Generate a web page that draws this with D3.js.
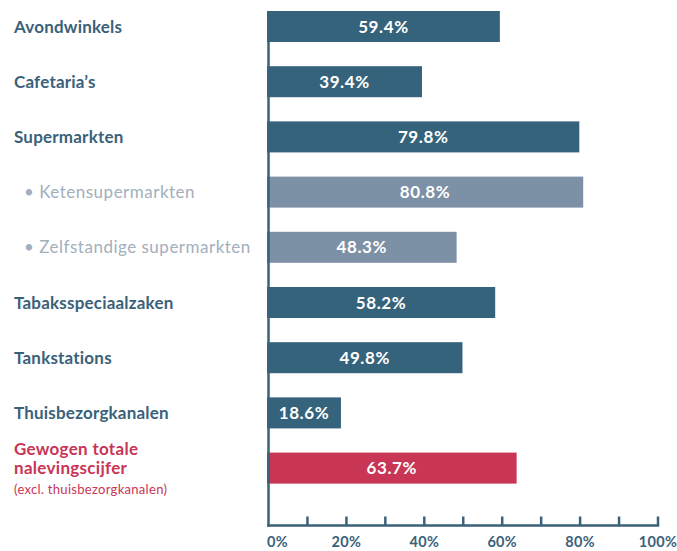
<!DOCTYPE html>
<html><head><meta charset="utf-8">
<script src="https://cdn.jsdelivr.net/npm/d3@7"></script>
<style>body{margin:0;background:#fff}svg{display:block}</style>
</head><body>
<svg id="c" width="677" height="551"></svg>
<script>
const categories = ["Avondwinkels","Cafetaria’s","Supermarkten","Ketensupermarkten","Zelfstandige supermarkten","Tabaksspeciaalzaken","Tankstations","Thuisbezorgkanalen","Gewogen totale nalevingscijfer"];
const values = [59.4,39.4,79.8,80.8,48.3,58.2,49.8,18.6,63.7];
const kinds = ["main","main","main","sub","sub","main","main","main","total"];
const tickValues = [0,10,20,30,40,50,60,70,80,90,100];
const tickLabels = {0:"0%",20:"20%",40:"40%",60:"60%",80:"80%",100:"100%"};

const colors = {main:"#36637C", sub:"#7D91A6", total:"#C83555"};
const textColors = {main:"#3A617A", sub:"#A2AFBD", total:"#C83555"};

const svg = d3.select("#c");
const x = d3.scaleLinear().domain([0,100]).range([268.5,658]);
const y = d3.scaleBand().domain(categories).range([-1.1,495.7]).paddingInner(0.438).paddingOuter(0.219);
const axisY = 525.5;
const axisColor = "#3A617A";

// bars
svg.selectAll("rect.bar").data(categories).join("rect")
  .attr("class","bar")
  .attr("x", 267)
  .attr("y", d=>y(d))
  .attr("width", (d,i)=>x(values[i])-267)
  .attr("height", y.bandwidth())
  .attr("fill", (d,i)=>colors[kinds[i]]);

// value labels
svg.selectAll("text.val").data(categories).join("text")
  .attr("class","val")
  .attr("x",(d,i)=>(267+x(values[i]))/2)
  .attr("y",d=>y(d)+y.bandwidth()/2+6)
  .attr("text-anchor","middle")
  .attr("fill","#fff")
  .style("font-family","Lato, sans-serif")
  .style("font-weight","700")
  .style("font-size","17px")
  .style("letter-spacing","0.6px")
  .text((d,i)=>values[i].toFixed(1)+"%");

// axis lines
svg.append("line").attr("x1",x(0)).attr("x2",x(0)).attr("y1",y(categories[0])).attr("y2",axisY+1.2)
  .attr("stroke",axisColor).attr("stroke-width",2.5);
svg.append("line").attr("x1",x(0)-1.2).attr("x2",x(100)+1.2).attr("y1",axisY).attr("y2",axisY)
  .attr("stroke",axisColor).attr("stroke-width",2.5);
svg.selectAll("line.tick").data(tickValues.slice(1)).join("line")
  .attr("class","tick")
  .attr("x1",d=>x(d)).attr("x2",d=>x(d))
  .attr("y1",axisY-9).attr("y2",axisY)
  .attr("stroke",axisColor).attr("stroke-width",2.5);
svg.selectAll("text.tl").data(tickValues.filter(d=>tickLabels[d]!==undefined)).join("text")
  .attr("class","tl")
  .attr("x",d=> d===0 ? x(0)-1.5 : x(d))
  .attr("y",551-4)
  .attr("text-anchor",d=> d===0 ? "start" : "middle")
  .attr("fill",axisColor)
  .style("font-family","Lato, sans-serif")
  .style("font-weight","700")
  .style("font-size","14.5px")
  .style("letter-spacing","0.3px")
  .text(d=>tickLabels[d]);

// category labels
categories.forEach((c,i)=>{
  const cy = y(c)+y.bandwidth()/2;
  const k = kinds[i];
  if(k==="main"){
    svg.append("text").attr("x",14).attr("y",cy+6)
      .attr("fill",textColors.main)
      .style("font-family","Lato, sans-serif").style("font-weight","700").style("font-size","17px")
      .style("letter-spacing","0.2px")
      .text(c);
  } else if(k==="sub"){
    svg.append("text").attr("x",24).attr("y",cy+6)
      .attr("fill",textColors.sub)
      .style("font-family","Lato, sans-serif").style("font-weight","400").style("font-size","17px")
      .style("letter-spacing","0.5px")
      .text("• "+c);
  } else {
    svg.append("text").attr("x",14).attr("y",cy-13).attr("fill",textColors.total)
      .style("font-family","Lato, sans-serif").style("font-weight","700").style("font-size","17px")
      .style("letter-spacing","0.3px")
      .text("Gewogen totale");
    svg.append("text").attr("x",14).attr("y",cy+6).attr("fill",textColors.total)
      .style("font-family","Lato, sans-serif").style("font-weight","700").style("font-size","17px")
      .style("letter-spacing","0.3px")
      .text("nalevingscijfer");
    svg.append("text").attr("x",14).attr("y",cy+25.5).attr("fill",textColors.total)
      .style("font-family","Lato, sans-serif").style("font-weight","400").style("font-size","13px")
      .style("letter-spacing","0.3px")
      .text("(excl. thuisbezorgkanalen)");
  }
});
</script>
</body></html>
